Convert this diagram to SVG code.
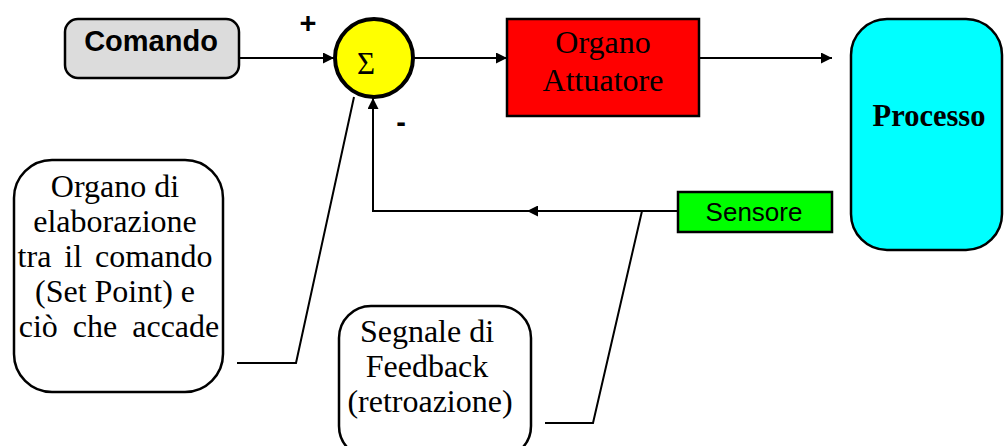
<svg xmlns="http://www.w3.org/2000/svg" width="1007" height="446" viewBox="0 0 1007 446">
<style>
.ln{fill:none;stroke:#000;stroke-width:2}
.box{stroke:#000;stroke-width:2.5}
.serif{font-family:"Liberation Serif","Times New Roman",serif;fill:#000}
.sans{font-family:"Liberation Sans",Arial,sans-serif;fill:#000}
.note{font-size:32px}
</style>
<defs>
<marker id="arr" viewBox="0 0 10 10" refX="10" refY="5" markerWidth="11" markerHeight="11" markerUnits="userSpaceOnUse" orient="auto">
<path d="M0,0 L10,5 L0,10 z" fill="#000"/>
</marker>
</defs>
<rect width="1007" height="446" fill="#fff"/>
<g id="connectors">
<line class="ln" x1="239" y1="58" x2="334" y2="58" marker-end="url(#arr)"/>
<line class="ln" x1="414" y1="58" x2="507" y2="58" marker-end="url(#arr)"/>
<line class="ln" x1="699" y1="58" x2="832" y2="58" marker-end="url(#arr)"/>
<line class="ln" x1="678" y1="211" x2="527" y2="211" marker-end="url(#arr)"/>
<polyline class="ln" points="527,211 373,211 373,98" marker-end="url(#arr)"/>
<polyline class="ln" points="354,97 296,363 237,363"/>
<polyline class="ln" points="642,211 593,423 545,423"/>
</g>
<g id="comando">
<rect class="box" x="65" y="19" width="174" height="59" rx="13" fill="#dcdcdc"/>
<text class="sans" x="151" y="51" font-size="29" font-weight="bold" text-anchor="middle">Comando</text>
</g>
<g id="sum">
<circle cx="374" cy="58" r="39" fill="#ffff00" stroke="#000" stroke-width="4"/>
<text class="serif" x="366" y="74" font-size="31" text-anchor="middle">Σ</text>
</g>
<g id="signs">
<text class="sans" x="308" y="33" font-size="29" font-weight="bold" text-anchor="middle">+</text>
<text class="sans" x="401" y="132" font-size="29" font-weight="bold" text-anchor="middle">-</text>
</g>
<g id="attuatore">
<rect class="box" x="507" y="19" width="192" height="97" fill="#ff0000"/>
<text class="serif" x="603" y="53" font-size="32" text-anchor="middle">Organo</text>
<text class="serif" x="603" y="91" font-size="32" text-anchor="middle">Attuatore</text>
</g>
<g id="processo">
<rect class="box" x="851" y="19" width="151" height="231" rx="36" fill="#00ffff"/>
<text class="serif" x="929" y="126" font-size="30.5" font-weight="bold" text-anchor="middle">Processo</text>
</g>
<g id="sensore">
<rect class="box" x="678" y="192" width="154" height="40" fill="#00ff00"/>
<text class="sans" x="754" y="221" font-size="26" text-anchor="middle">Sensore</text>
</g>
<g id="callout-elaborazione">
<rect class="box" x="14" y="160" width="209" height="232" rx="38" fill="#fff"/>
<text class="serif note" text-anchor="middle">
<tspan x="119" y="197">Organo di</tspan>
<tspan x="119" y="232">elaborazione</tspan>
<tspan x="119" y="267" word-spacing="5">tra il comando</tspan>
<tspan x="119" y="302">(Set Point) e</tspan>
<tspan x="119" y="337" word-spacing="7">ciò che accade</tspan>
</text>
</g>
<g id="callout-feedback">
<rect class="box" x="339" y="306" width="192" height="152" rx="32" fill="#fff"/>
<text class="serif note" text-anchor="middle">
<tspan x="431" y="342">Segnale di</tspan>
<tspan x="431" y="377">Feedback</tspan>
<tspan x="430" y="412">(retroazione)</tspan>
</text>
</g>
</svg>
